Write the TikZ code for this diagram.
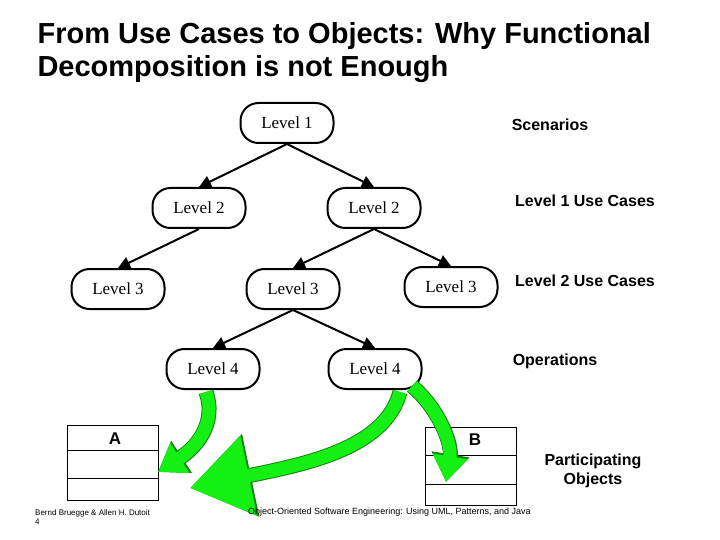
\documentclass[tikz,border=0pt]{standalone}
\usepackage{fontspec}
\setmainfont{Liberation Serif}
\newfontfamily\arial{Liberation Sans}
\usetikzlibrary{arrows.meta}
\definecolor{brightgreen}{RGB}{20,240,20}
\definecolor{darkgreen}{RGB}{20,130,20}
\tikzset{
  lvl/.style={draw,line width=2pt,rounded corners=18pt,minimum width=93pt,minimum height=40pt,inner sep=0pt,font=\fontsize{17}{19}\selectfont},
  edge/.style={line width=2pt,-{Triangle[length=12pt,width=12pt]}},
  side/.style={font=\arial\bfseries\fontsize{16}{19}\selectfont,align=center},
  garrow/.style={line width=13pt,brightgreen,-{Triangle[length=#1,width=#1*1.3]}},
  gborder/.style={line width=15pt,darkgreen,-{Triangle[length=#1,width=#1*1.3]}},
}
\begin{document}
\begin{tikzpicture}[x=1pt,y=-1pt]
\useasboundingbox (0,0) rectangle (720,540);
\node[anchor=west,font=\arial\bfseries\fontsize{29}{33}\selectfont,align=left] (title) at (34,53) {From Use Cases to Objects: Why Functional\\Decomposition is not Enough};

\node[lvl] (l1) at (287,123) {Level 1};
\node[lvl] (l2a) at (199,208) {Level 2};
\node[lvl] (l2b) at (374,208) {Level 2};
\node[lvl] (l3a) at (118,289) {Level 3};
\node[lvl] (l3b) at (293,289) {Level 3};
\node[lvl] (l3c) at (451,287) {Level 3};
\node[lvl] (l4a) at (213,369) {Level 4};
\node[lvl] (l4b) at (375,369) {Level 4};

\draw[edge] (l1.south) -- (l2a.north);
\draw[edge] (l1.south) -- (l2b.north);
\draw[edge] (l2a.south) -- (l3a.north);
\draw[edge] (l2b.south) -- (l3b.north);
\draw[edge] (l2b.south) -- (l3c.north);
\draw[edge] (l3b.south) -- (l4a.north);
\draw[edge] (l3b.south) -- (l4b.north);

\node[side] (s1) at (550,125) {Scenarios};
\node[side] (s2) at (585,201) {Level 1 Use Cases};
\node[side] (s3) at (585,281) {Level 2 Use Cases};
\node[side] (s4) at (555,361) {Operations};
\node[side] (s5) at (593,471) {Participating\\Objects};

% class boxes
\node[draw,line width=1pt,minimum width=91pt,minimum height=75pt] (A) at (112.5,462.5) {};
\draw[line width=1pt] (67,450) -- (158,450) (67,478) -- (158,478);
\node[font=\arial\bfseries\fontsize{17}{19}\selectfont] (Alab) at (115,439) {A};
\node[draw,line width=1pt,minimum width=91pt,minimum height=78pt] (B) at (470.5,466) {};
\draw[line width=1pt] (425,455) -- (516,455) (425,484) -- (516,484);
\node[font=\arial\bfseries\fontsize{17}{19}\selectfont] (Blab) at (475,440) {B};

% green arrows
\draw[gborder=28pt] (206,392) .. controls (216,420) and (200,445) .. (158,472);
\draw[garrow=26pt] (206,392) .. controls (216,420) and (200,445) .. (158,472);
\draw[gborder=62pt] (400,392) .. controls (385,450) and (300,465) .. (190,488);
\draw[garrow=60pt] (400,392) .. controls (385,450) and (300,465) .. (190,488);
\draw[gborder=28pt] (412,386) .. controls (440,410) and (452,445) .. (446,482);
\draw[garrow=26pt] (412,386) .. controls (440,410) and (452,445) .. (446,482);

\node[anchor=north west,align=left,font=\arial\fontsize{8}{9}\selectfont,inner sep=0pt] (f1) at (35,509) {Bernd Bruegge \& Allen H. Dutoit\\4};
\node[anchor=north west,font=\arial\fontsize{9}{10}\selectfont,inner sep=0pt] (f2) at (248,508) {Object-Oriented Software Engineering: Using UML, Patterns, and Java};
\end{tikzpicture}
\end{document}
